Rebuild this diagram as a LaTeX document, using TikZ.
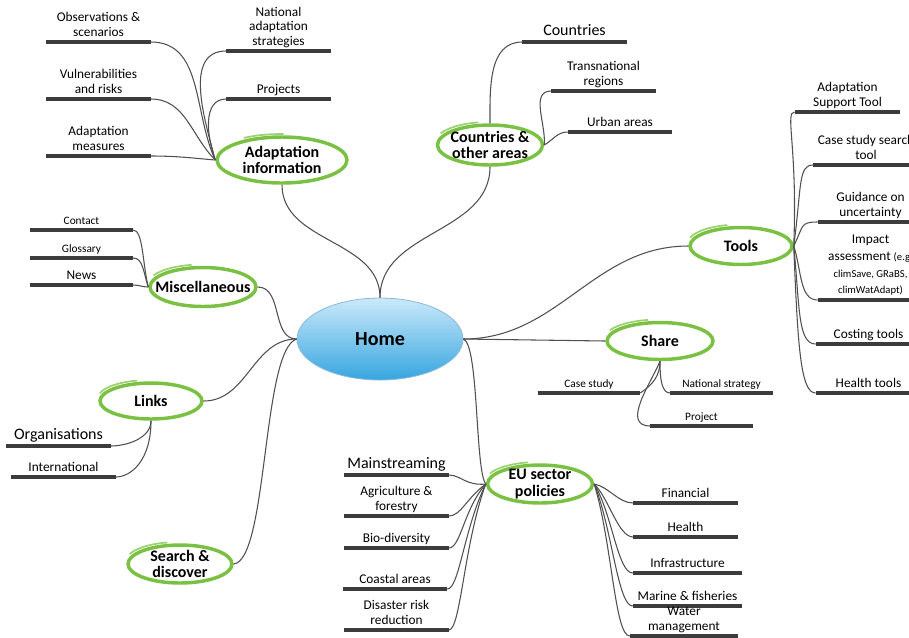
\documentclass[tikz,border=0pt]{standalone}
\usepackage{fontspec}
\setmainfont{Carlito}
\usetikzlibrary{shapes.geometric}
\definecolor{mmgreen}{HTML}{7AC143}
\definecolor{mmbar}{HTML}{3C3C3C}
\definecolor{mmline}{HTML}{505050}
\definecolor{hometop}{HTML}{CBE9FA}
\definecolor{homebot}{HTML}{36A6E0}
\definecolor{homeedge}{HTML}{8CB8DC}
\begin{document}
\begin{tikzpicture}[x=0.75pt,y=0.75pt,
    topic/.style={ellipse,draw=mmgreen,fill=white,line width=2.6pt,inner sep=-12pt,align=center,
      font=\fontsize{12}{12.5}\selectfont\bfseries,
      postaction={draw=mmgreen!75,line width=1.3pt,dash pattern=on 0pt off 52pt on 30pt off 900pt,
        transform canvas={shift={(-1.5pt,2.2pt)}}}},
    leaf/.style={anchor=south,minimum width=78pt,inner xsep=0pt,inner ysep=0.6pt,align=center,
      font=\fontsize{10}{11}\selectfont,execute at end node=\strut,
      append after command={(\tikzlastnode.south west) edge[bar] (\tikzlastnode.south east)}},
    leafsmall/.style={font=\fontsize{8.5}{10}\selectfont},
    leafbig/.style={font=\fontsize{12}{13}\selectfont},
    bar/.style={draw=mmbar,line width=2.3pt},
    link/.style={draw=mmline,line width=0.8pt}]
  \useasboundingbox (0,0) rectangle (909,-637);
  \node[ellipse,draw=homeedge,line width=0.6pt,top color=hometop,bottom color=homebot,
    minimum width=124.5pt,minimum height=61.5pt,inner sep=-12pt,
    font=\fontsize{15}{16}\selectfont\bfseries] (home) at (380,-339) {Home};
  \node[topic,minimum width=97.5pt,minimum height=34.5pt] (adapt) at (282,-160) {Adaptation\\information};
  \node[topic,minimum width=78.75pt,minimum height=30pt] (areas) at (490,-145) {Countries \&\\other areas};
  \node[topic,minimum width=76.5pt,minimum height=27.75pt] (tools) at (741,-246) {Tools};
  \node[topic,minimum width=79.5pt,minimum height=29.25pt] (misc) at (203,-287) {Miscellaneous};
  \node[topic,minimum width=79.5pt,minimum height=27.75pt] (share) at (660,-341) {Share};
  \node[topic,minimum width=76.5pt,minimum height=27pt] (links) at (151,-401) {Links};
  \node[topic,minimum width=78.75pt,minimum height=28.5pt] (eu) at (540,-484) {EU sector\\policies};
  \node[topic,minimum width=78pt,minimum height=28.5pt] (search) at (180,-564) {Search \&\\discover};
  % adaptation information
  \node[leaf] (obs) at (98.5,-42) {Observations \&\\scenarios};
  \node[leaf] (vuln) at (98.5,-99) {Vulnerabilities\\and risks};
  \node[leaf] (meas) at (98.5,-156) {Adaptation\\measures};
  \node[leaf] (nas) at (278.5,-51) {National\\adaptation\\strategies};
  \node[leaf] (proj) at (278.5,-99) {Projects};
  % countries
  \node[leaf,leafbig] (ctry) at (574.5,-42) {Countries};
  \node[leaf] (trans) at (603.5,-91) {Transnational\\regions};
  \node[leaf] (urban) at (620,-132) {Urban areas};
  % tools
  \node[leaf,minimum width=79pt] (ast) at (847.5,-112) {Adaptation\\Support Tool};
  \node[leaf,minimum width=79pt] (cst) at (866,-165) {Case study search\\tool};
  \node[leaf,minimum width=79pt] (gdu) at (870.5,-222) {Guidance on\\uncertainty};
  \node[leaf,minimum width=79pt,font=\fontsize{10}{12.5}\selectfont] (imp) at (870.5,-300)
    {Impact\\assessment {\fontsize{8}{9}\selectfont(e.g.}\\{\fontsize{8}{9}\selectfont climSave, GRaBS,}\\{\fontsize{8}{9}\selectfont climWatAdapt)}};
  \node[leaf,minimum width=79pt] (cost) at (868.5,-344) {Costing tools};
  \node[leaf,minimum width=79pt] (hlth) at (868.5,-393) {Health tools};
  % share
  \node[leaf,leafsmall,minimum width=76.5pt] (cs) at (589,-393) {Case study};
  \node[leaf,leafsmall,minimum width=76.5pt] (ns) at (721.5,-393) {National strategy};
  \node[leaf,leafsmall,minimum width=76.5pt] (prj) at (701.5,-426) {Project};
  % miscellaneous, links
  \node[leaf,leafsmall,minimum width=77pt] (cont) at (81.5,-230) {Contact};
  \node[leaf,leafsmall,minimum width=77pt] (glos) at (81.5,-258) {Glossary};
  \node[leaf,minimum width=77pt] (news) at (81.5,-285) {News};
  \node[leaf,leafbig] (org) at (58.5,-446) {Organisations};
  \node[leaf] (intl) at (63.5,-477) {International};
  % eu sector policies
  \node[leaf,leafbig] (mstr) at (396.5,-475) {Mainstreaming};
  \node[leaf] (agri) at (396.5,-516) {Agriculture \&\\forestry};
  \node[leaf] (bio) at (396.5,-548) {Bio-diversity};
  \node[leaf] (coast) at (395,-589) {Coastal areas};
  \node[leaf] (dis) at (396.5,-630) {Disaster risk\\reduction};
  \node[leaf] (fin) at (685.5,-503) {Financial};
  \node[leaf] (hlt) at (685.5,-537) {Health};
  \node[leaf,minimum width=81.75pt] (infra) at (687.5,-573) {Infrastructure};
  \node[leaf,minimum width=81.75pt] (mar) at (687.5,-606) {Marine \& fisheries};
  \node[leaf,minimum width=81pt] (wat) at (684,-636) {Water\\management};
  % connectors
  \draw[link] (home.east) to[out=0,in=180] (tools.west);
  \draw[link] (home.east) -- (share.west);
  \draw[link] (home.east) .. controls (479,-345) and (475,-470) .. (eu.west);
  \draw[link] (misc.east) to[out=0,in=180] (home.west);
  \draw[link] (links.east) to[out=0,in=180] (home.west);
  \draw[link] (search.east) .. controls (268,-560) and (262,-350) .. (home.west);
  \draw[link] (adapt.south) to[out=-90,in=90] (home.north);
  \draw[link] (areas.south) to[out=-90,in=90] (home.north);
  \draw[link] (adapt.west) to[out=115,in=0] (obs.south east);
  \draw[link] (adapt.west) to[out=135,in=0] (vuln.south east);
  \draw[link] (adapt.west) to[out=175,in=0] (meas.south east);
  \draw[link] (adapt.west) to[out=105,in=180] (nas.south west);
  \draw[link] (adapt.west) to[out=110,in=180] (proj.south west);
  \draw[link] (areas.north) to[out=90,in=180] (ctry.south west);
  \draw[link] (areas.east) to[out=85,in=180] (trans.south west);
  \draw[link] (areas.east) to[out=30,in=180] (urban.south west);
  \draw[link] (tools.east) .. controls +(4,100) and +(-10,0) .. (ast.south west);
  \draw[link] (tools.east) .. controls +(8,60) and +(-15,0) .. (cst.south west);
  \draw[link] (tools.east) .. controls +(10,20) and +(-18,0) .. (gdu.south west);
  \draw[link] (tools.east) .. controls +(8,-25) and +(-18,0) .. (imp.south west);
  \draw[link] (tools.east) .. controls +(6,-60) and +(-18,0) .. (cost.south west);
  \draw[link] (tools.east) .. controls +(4,-100) and +(-15,0) .. (hlth.south west);
  \draw[link] (share.south) .. controls +(0,-15) and +(12,8) .. (cs.south east);
  \draw[link] (share.south) .. controls +(0,-20) and +(-8,0) .. (ns.south west);
  \draw[link] (share.south) .. controls +(-8,-20) and +(-30,0) .. (prj.south west);
  \draw[link] (misc.west) .. controls +(-6,25) and +(10,0) .. (cont.south east);
  \draw[link] (misc.west) .. controls +(-5,15) and +(10,0) .. (glos.south east);
  \draw[link] (misc.west) .. controls +(-6,0) and +(6,0) .. (news.south east);
  \draw[link] (links.south) .. controls +(0,-18) and +(15,0) .. (org.south east);
  \draw[link] (links.south) .. controls +(0,-40) and +(15,0) .. (intl.south east);
  \draw[link] (eu.west) .. controls +(-20,-2) and +(12,0) .. (mstr.south east);
  \draw[link] (eu.west) .. controls +(-20,-15) and +(12,0) .. (agri.south east);
  \draw[link] (eu.west) .. controls +(-22,-25) and +(12,0) .. (bio.south east);
  \draw[link] (eu.west) .. controls +(-22,-45) and +(12,0) .. (coast.south east);
  \draw[link] (eu.west) .. controls +(-22,-60) and +(12,0) .. (dis.south east);
  \draw[link] (eu.east) .. controls +(15,-3) and +(-15,0) .. (fin.south west);
  \draw[link] (eu.east) .. controls +(15,-15) and +(-15,0) .. (hlt.south west);
  \draw[link] (eu.east) .. controls +(18,-30) and +(-15,0) .. (infra.south west);
  \draw[link] (eu.east) .. controls +(18,-45) and +(-15,0) .. (mar.south west);
  \draw[link] (eu.east) .. controls +(18,-60) and +(-15,0) .. (wat.south west);
\end{tikzpicture}
\end{document}
